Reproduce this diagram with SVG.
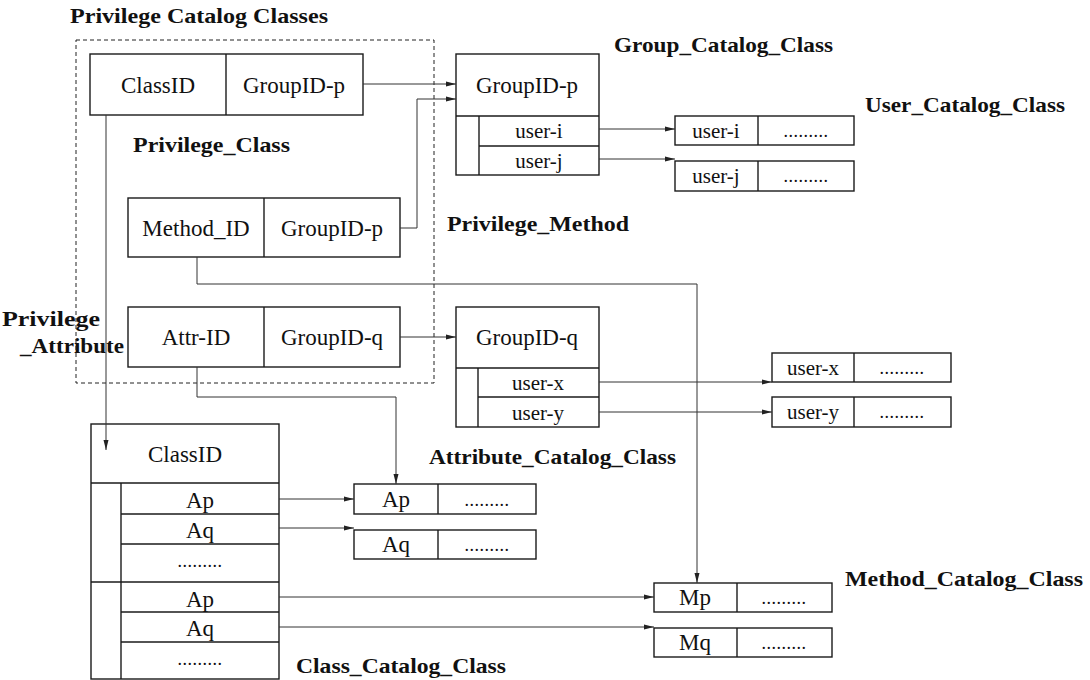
<svg xmlns="http://www.w3.org/2000/svg" width="1090" height="680" viewBox="0 0 1090 680">
<defs>
<marker id="arr" markerWidth="10" markerHeight="6" refX="10" refY="3" orient="auto" markerUnits="userSpaceOnUse">
<path d="M0,0.5 L10,3 L0,5.5 Z" fill="#222"/>
</marker>
<style>
.box{fill:#fff;stroke:#1a1a1a;stroke-width:1.4}
.ln{fill:none;stroke:#1a1a1a;stroke-width:1.4}
.cn{fill:none;stroke:#333;stroke-width:1}
.t{font-family:"Liberation Serif",serif;font-size:23px;fill:#111;text-anchor:middle}
.s{font-family:"Liberation Serif",serif;font-size:21px;fill:#111;text-anchor:middle}
.d{font-family:"Liberation Serif",serif;font-size:18px;fill:#111;text-anchor:middle;letter-spacing:0.5px}
.lb{font-family:"Liberation Serif",serif;font-size:21px;font-weight:bold;fill:#111}
</style>
</defs>
<rect width="1090" height="680" fill="#fff"/>

<g id="labels">
<text class="lb" x="70" y="23" textLength="258" lengthAdjust="spacingAndGlyphs">Privilege Catalog Classes</text>
<text class="lb" x="133" y="152" textLength="157" lengthAdjust="spacingAndGlyphs">Privilege_Class</text>
<text class="lb" x="614" y="52" textLength="219" lengthAdjust="spacingAndGlyphs">Group_Catalog_Class</text>
<text class="lb" x="865" y="112" textLength="200" lengthAdjust="spacingAndGlyphs">User_Catalog_Class</text>
<text class="lb" x="447" y="231" textLength="182" lengthAdjust="spacingAndGlyphs">Privilege_Method</text>
<text class="lb" x="2" y="326" textLength="98" lengthAdjust="spacingAndGlyphs">Privilege</text>
<text class="lb" x="20" y="353" textLength="104" lengthAdjust="spacingAndGlyphs">_Attribute</text>
<text class="lb" x="429" y="464" textLength="247" lengthAdjust="spacingAndGlyphs">Attribute_Catalog_Class</text>
<text class="lb" x="845" y="586" textLength="238" lengthAdjust="spacingAndGlyphs">Method_Catalog_Class</text>
<text class="lb" x="296" y="673" textLength="210" lengthAdjust="spacingAndGlyphs">Class_Catalog_Class</text>
</g>

<g id="privilege-catalog-classes">
<rect x="76" y="40" width="358" height="343" fill="none" stroke="#222" stroke-width="1" stroke-dasharray="4,3"/>
</g>

<g id="privilege-class">
<rect class="box" x="90" y="54" width="273" height="61"/>
<line class="ln" x1="226" y1="54" x2="226" y2="115"/>
<text class="t" x="158" y="93">ClassID</text>
<text class="t" x="294" y="93">GroupID-p</text>
</g>

<g id="privilege-method">
<rect class="box" x="128" y="198" width="272" height="59"/>
<line class="ln" x1="264" y1="198" x2="264" y2="257"/>
<text class="t" x="196" y="236">Method_ID</text>
<text class="t" x="332" y="236">GroupID-p</text>
</g>

<g id="privilege-attribute">
<rect class="box" x="128" y="307" width="272" height="60"/>
<line class="ln" x1="264" y1="307" x2="264" y2="367"/>
<text class="t" x="196" y="345">Attr-ID</text>
<text class="t" x="332" y="345">GroupID-q</text>
</g>

<g id="group-p">
<rect class="box" x="456" y="54" width="143" height="121"/>
<line class="ln" x1="456" y1="116" x2="599" y2="116"/>
<line class="ln" x1="479" y1="116" x2="479" y2="175"/>
<line class="ln" x1="479" y1="146" x2="599" y2="146"/>
<text class="t" x="527" y="93">GroupID-p</text>
<text class="s" x="539" y="138">user-i</text>
<text class="s" x="539" y="168">user-j</text>
</g>

<g id="user-i">
<rect class="box" x="675" y="116" width="179" height="29"/>
<line class="ln" x1="758" y1="116" x2="758" y2="145"/>
<text class="s" x="716" y="138">user-i</text>
<text class="d" x="806" y="137">.........</text>
</g>
<g id="user-j">
<rect class="box" x="675" y="161" width="179" height="30"/>
<line class="ln" x1="758" y1="161" x2="758" y2="191"/>
<text class="s" x="716" y="183">user-j</text>
<text class="d" x="806" y="182">.........</text>
</g>

<g id="group-q">
<rect class="box" x="456" y="307" width="143" height="120"/>
<line class="ln" x1="456" y1="368" x2="599" y2="368"/>
<line class="ln" x1="478" y1="368" x2="478" y2="427"/>
<line class="ln" x1="478" y1="397" x2="599" y2="397"/>
<text class="t" x="527" y="345">GroupID-q</text>
<text class="s" x="538" y="390">user-x</text>
<text class="s" x="538" y="420">user-y</text>
</g>

<g id="user-x">
<rect class="box" x="772" y="353" width="179" height="29"/>
<line class="ln" x1="854" y1="353" x2="854" y2="382"/>
<text class="s" x="813" y="375">user-x</text>
<text class="d" x="902" y="374">.........</text>
</g>
<g id="user-y">
<rect class="box" x="772" y="397" width="179" height="30"/>
<line class="ln" x1="854" y1="397" x2="854" y2="427"/>
<text class="s" x="813" y="419">user-y</text>
<text class="d" x="902" y="418">.........</text>
</g>

<g id="class-catalog">
<rect class="box" x="91" y="424" width="188" height="255"/>
<line class="ln" x1="91" y1="483" x2="279" y2="483"/>
<line class="ln" x1="121" y1="483" x2="121" y2="679"/>
<line class="ln" x1="121" y1="514" x2="279" y2="514"/>
<line class="ln" x1="121" y1="544" x2="279" y2="544"/>
<line class="ln" x1="91" y1="582" x2="279" y2="582"/>
<line class="ln" x1="121" y1="612" x2="279" y2="612"/>
<line class="ln" x1="121" y1="642" x2="279" y2="642"/>
<text class="t" x="185" y="462">ClassID</text>
<text class="t" x="200" y="508">Ap</text>
<text class="t" x="200" y="538">Aq</text>
<text class="d" x="200" y="567">.........</text>
<text class="t" x="200" y="607">Ap</text>
<text class="t" x="200" y="636">Aq</text>
<text class="d" x="200" y="665">.........</text>
</g>

<g id="attr-ap">
<rect class="box" x="354" y="484" width="182" height="30"/>
<line class="ln" x1="438" y1="484" x2="438" y2="514"/>
<text class="t" x="396" y="507">Ap</text>
<text class="d" x="487" y="506">.........</text>
</g>
<g id="attr-aq">
<rect class="box" x="354" y="530" width="182" height="29"/>
<line class="ln" x1="438" y1="530" x2="438" y2="559"/>
<text class="t" x="396" y="552">Aq</text>
<text class="d" x="487" y="551">.........</text>
</g>

<g id="method-mp">
<rect class="box" x="654" y="583" width="178" height="29"/>
<line class="ln" x1="737" y1="583" x2="737" y2="612"/>
<text class="t" x="695" y="605">Mp</text>
<text class="d" x="784" y="604">.........</text>
</g>
<g id="method-mq">
<rect class="box" x="654" y="628" width="178" height="29"/>
<line class="ln" x1="737" y1="628" x2="737" y2="657"/>
<text class="t" x="695" y="650">Mq</text>
<text class="d" x="784" y="649">.........</text>
</g>

<g id="connectors">
<path class="cn" d="M363,84 H456" marker-end="url(#arr)"/>
<path class="cn" d="M400,228 H417 V99 H456" marker-end="url(#arr)"/>
<path class="cn" d="M400,337 H456" marker-end="url(#arr)"/>
<path class="cn" d="M599,129 H675" marker-end="url(#arr)"/>
<path class="cn" d="M599,159 H675" marker-end="url(#arr)"/>
<path class="cn" d="M599,382 H772" marker-end="url(#arr)"/>
<path class="cn" d="M599,412 H772" marker-end="url(#arr)"/>
<path class="cn" d="M106,115 V450" marker-end="url(#arr)"/>
<path class="cn" d="M197,257 V284 H697 V583" marker-end="url(#arr)"/>
<path class="cn" d="M197,367 V397 H396 V484" marker-end="url(#arr)"/>
<path class="cn" d="M279,499 H354" marker-end="url(#arr)"/>
<path class="cn" d="M279,528 H354" marker-end="url(#arr)"/>
<path class="cn" d="M279,597 H654" marker-end="url(#arr)"/>
<path class="cn" d="M279,627 H654" marker-end="url(#arr)"/>
</g>
</svg>
